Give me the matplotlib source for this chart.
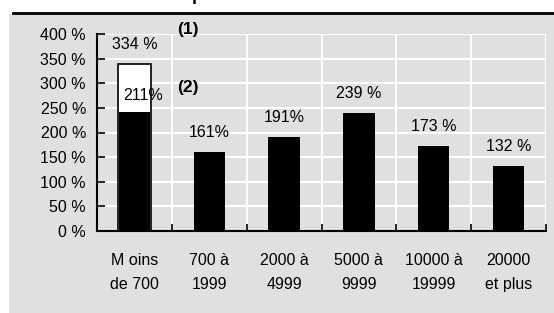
import matplotlib.pyplot as plt
from matplotlib.patches import Rectangle
from matplotlib.lines import Line2D

plt.rcParams['font.family'] = ['Liberation Sans', 'DejaVu Sans']

categories = ['M oins\nde 700', '700 à\n1999', '2000 à\n4999', '5000 à\n9999', '10000 à\n19999', '20000\net plus']
values = [242, 161, 191, 239, 173, 132]
labels = ['', '161%', '191%', '239 %', '173 %', '132 %']
# first class: extra white part on top of the black bar
first_total = 340
first_labels = ['334 %', '211%']

fig = plt.figure(figsize=(5.54, 3.13), dpi=100)
fig.patch.set_facecolor('white')

# grey panel and black rule at top
fig.patches.append(Rectangle((9 / 554, 0), 1, 1 - 14 / 313, transform=fig.transFigure,
                             facecolor='#e0e0e0', edgecolor='none', zorder=-10))
fig.lines.append(Line2D([13 / 554, 1], [1 - 12.5 / 313] * 2, transform=fig.transFigure,
                        color='black', lw=2))
fig.text(197 / 554, 1 - 0.5 / 313, 'p', weight='bold', fontsize=13, ha='center', va='baseline')

ax = fig.add_axes([97 / 554, 1 - 231 / 313, 449 / 554, 197 / 313])
ax.set_facecolor('#e0e0e0')

x = range(len(categories))
ax.bar(0, first_total, width=0.44, color='white', edgecolor='black', lw=1.2, zorder=2)
ax.bar(x, values, width=0.42, color='black', zorder=3)

for i, (v, t) in enumerate(zip(values, labels)):
    if t:
        ax.text(i, v + 40, t, ha='center', va='center', fontsize=11.5)
ax.text(0, first_total + 38, first_labels[0], ha='center', va='center', fontsize=11.5)
ax.text(0.12, 276, first_labels[1], ha='center', va='center', fontsize=11.5, zorder=4)
ax.text(0.72, 409, '(1)', ha='center', va='center', fontsize=12.5, weight='bold', clip_on=False)
ax.text(0.72, 292, '(2)', ha='center', va='center', fontsize=12.5, weight='bold')

ax.set_xlim(-0.5, len(categories) - 0.5)
ax.set_ylim(0, 400)
ax.set_yticks(range(0, 401, 50))
ax.set_yticklabels([f'{v} %' for v in range(0, 401, 50)], fontsize=11.5)
ax.set_xticks(x)
ax.set_xticklabels(categories, fontsize=11.5, linespacing=1.75)
ax.set_xticks([i - 0.5 for i in range(len(categories) + 1)], minor=True)
ax.tick_params(axis='x', which='major', length=0, pad=16)
ax.tick_params(axis='x', which='minor', direction='in', length=5, width=1.2)
ax.tick_params(axis='y', direction='in', length=6, width=1.2, pad=8)

ax.grid(True, axis='y', color='white', lw=1.5)
ax.grid(True, axis='x', which='minor', color='white', lw=1.5)
ax.set_axisbelow(True)
for s in ['top', 'right']:
    ax.spines[s].set_visible(False)
for s in ['left', 'bottom']:
    ax.spines[s].set_linewidth(1.5)
    ax.spines[s].set_zorder(5)

fig.savefig('out.png', dpi=100)
